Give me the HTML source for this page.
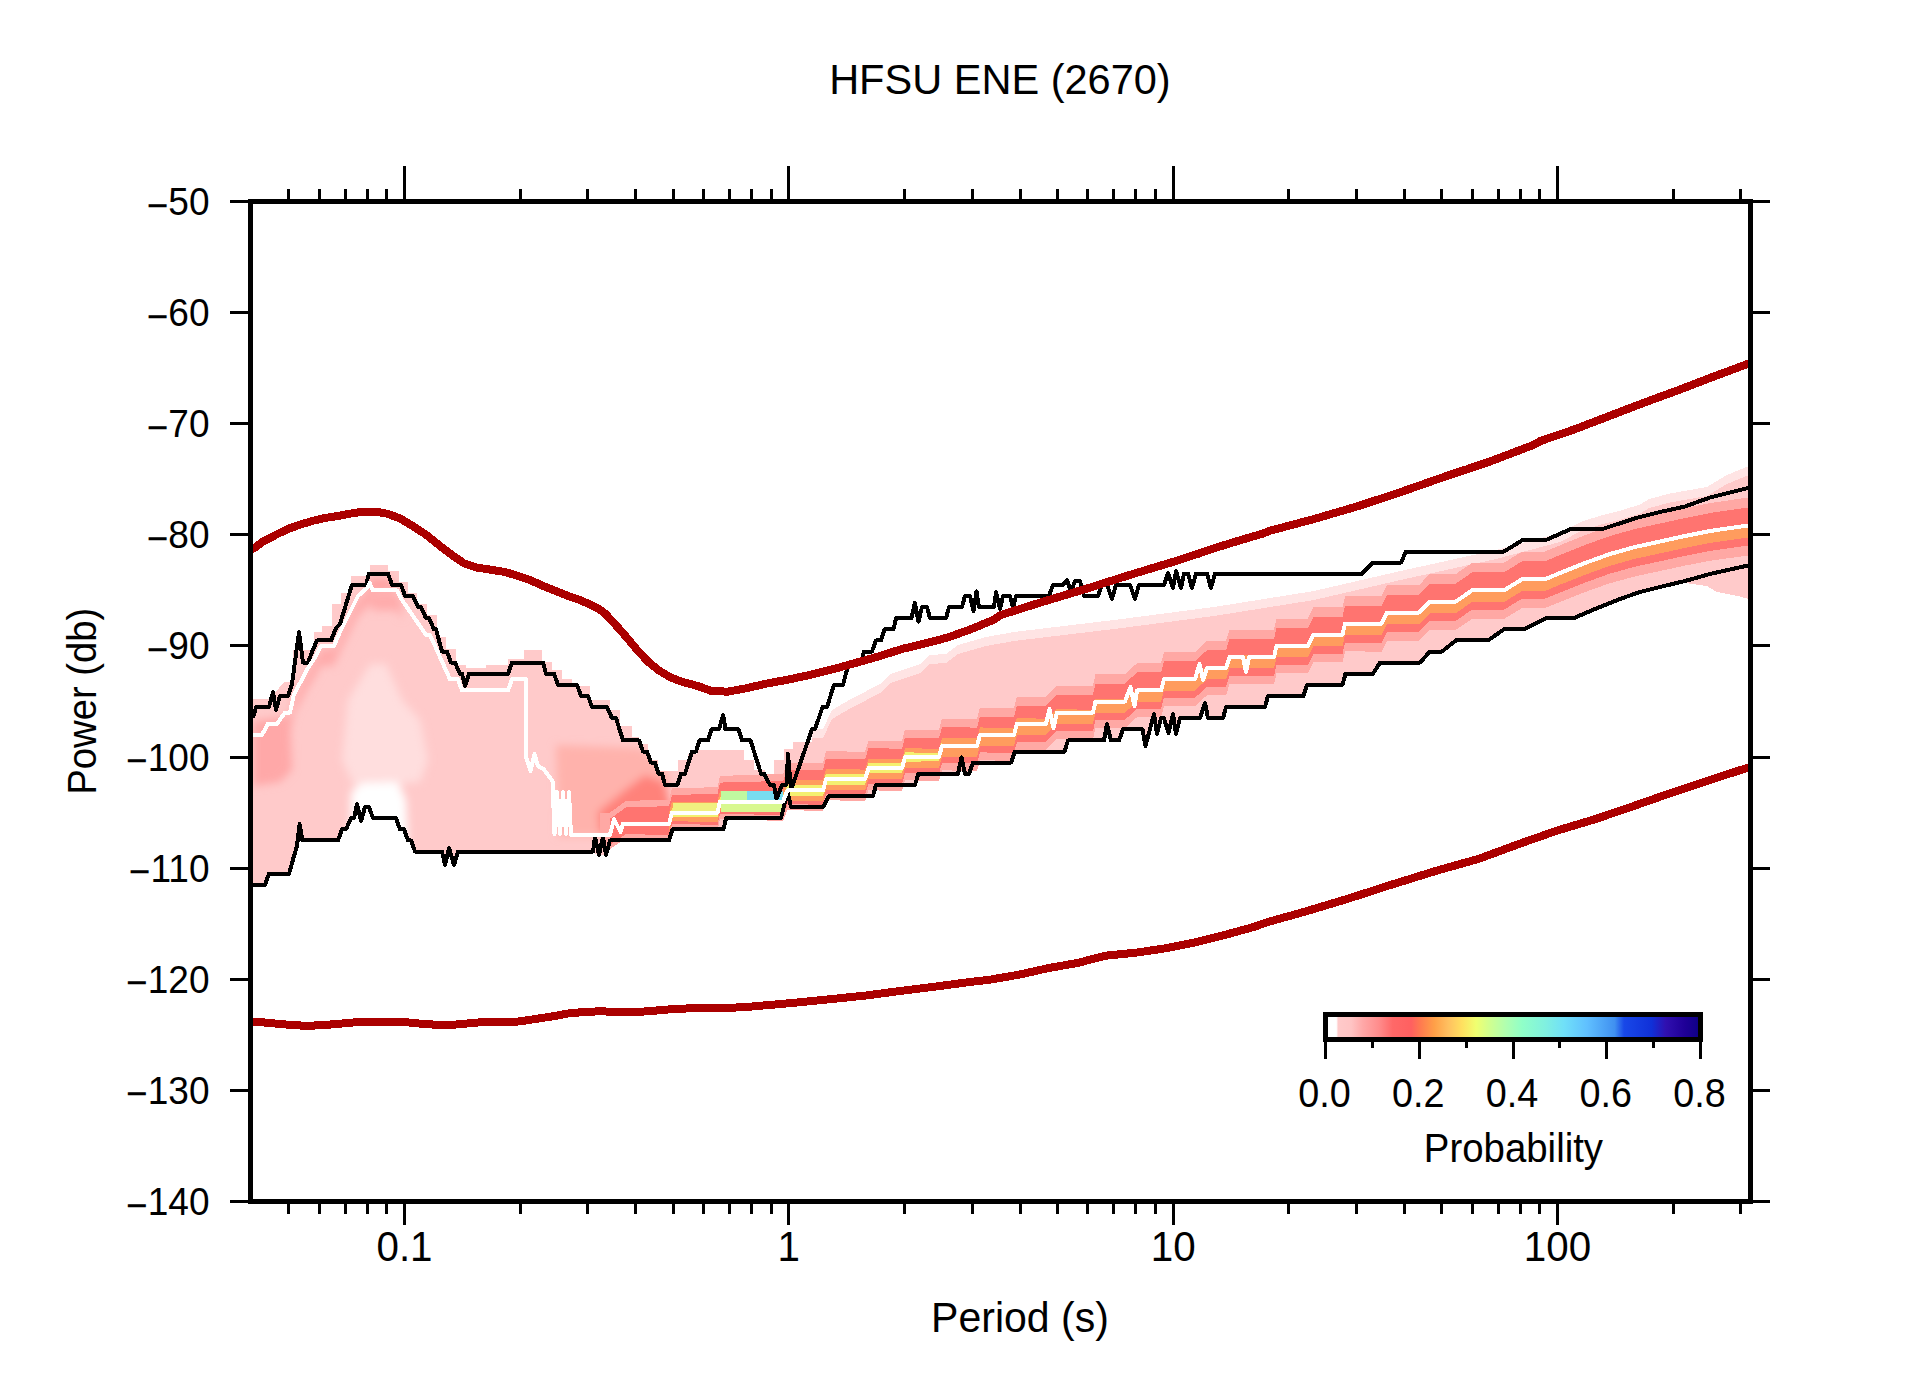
<!DOCTYPE html><html><head><meta charset="utf-8"><title>HFSU ENE (2670)</title><style>html,body{margin:0;padding:0;background:#fff;}svg{display:block;}text{font-family:"Liberation Sans",Arial,Helvetica,sans-serif;fill:#000;}</style></head><body>
<svg width="1910" height="1389" viewBox="0 0 1910 1389" shape-rendering="crispEdges">
<rect width="1910" height="1389" fill="#fff"/>
<defs><clipPath id="pc"><rect x="250.5" y="201.5" width="1500.0" height="1000.0"/></clipPath>
<linearGradient id="cb" x1="0" x2="1" y1="0" y2="0">
<stop offset="0.0000" stop-color="#ffffff"/>
<stop offset="0.0225" stop-color="#ffffff"/>
<stop offset="0.0275" stop-color="#ffcaca"/>
<stop offset="0.0625" stop-color="#ffc4c4"/>
<stop offset="0.0937" stop-color="#ffa8a8"/>
<stop offset="0.1375" stop-color="#ff8c8c"/>
<stop offset="0.1750" stop-color="#ff6868"/>
<stop offset="0.2250" stop-color="#ff6060"/>
<stop offset="0.2500" stop-color="#ff7a50"/>
<stop offset="0.2875" stop-color="#ffa048"/>
<stop offset="0.3250" stop-color="#ffc060"/>
<stop offset="0.3625" stop-color="#ffe060"/>
<stop offset="0.4000" stop-color="#f0ff70"/>
<stop offset="0.4375" stop-color="#d0ff90"/>
<stop offset="0.4813" stop-color="#b0ffb0"/>
<stop offset="0.5250" stop-color="#90ffc8"/>
<stop offset="0.5875" stop-color="#80f0e0"/>
<stop offset="0.6375" stop-color="#70e0f8"/>
<stop offset="0.7000" stop-color="#60c0ff"/>
<stop offset="0.7750" stop-color="#4090f0"/>
<stop offset="0.8000" stop-color="#1848e8"/>
<stop offset="0.8750" stop-color="#1030d8"/>
<stop offset="0.9125" stop-color="#3010b0"/>
<stop offset="0.9625" stop-color="#200098"/>
<stop offset="1.0000" stop-color="#100088"/>
</linearGradient>
<clipPath id="envc"><polygon points="252.0,699.0 270.0,699.0 284.0,682.0 293.0,682.0 293.0,650.0 314.0,650.0 314.0,632.0 322.0,632.0 322.0,626.0 332.0,626.0 332.0,604.0 341.0,604.0 341.0,593.0 351.0,593.0 351.0,576.0 370.0,576.0 370.0,565.0 388.0,565.0 388.0,571.0 399.0,571.0 399.0,582.0 408.0,582.0 408.0,593.0 417.0,593.0 417.0,604.0 427.0,604.0 427.0,615.0 437.0,615.0 437.0,637.0 446.0,637.0 446.0,649.0 456.0,649.0 456.0,665.0 466.0,665.0 466.0,668.0 486.0,668.0 486.0,665.0 508.0,665.0 508.0,659.0 524.0,659.0 524.0,650.0 542.0,650.0 542.0,662.0 552.0,662.0 552.0,670.0 562.0,670.0 562.0,679.0 572.0,679.0 572.0,686.0 590.0,686.0 590.0,700.0 610.0,700.0 610.0,710.0 620.0,710.0 620.0,726.0 632.0,726.0 632.0,737.0 639.0,737.0 639.0,744.0 648.0,744.0 648.0,760.0 658.0,760.0 658.0,771.0 678.0,771.0 678.0,760.0 688.0,760.0 688.0,754.0 697.0,754.0 697.0,750.0 744.0,750.0 744.0,760.0 754.0,760.0 754.0,770.0 765.0,770.0 765.0,777.0 774.0,777.0 774.0,760.0 784.0,760.0 784.0,749.0 793.0,749.0 793.0,742.0 812.0,742.0 812.0,729.0 823.0,729.0 832.0,710.0 851.0,699.0 861.0,694.0 872.0,688.0 882.0,683.0 890.0,674.0 920.0,664.0 929.0,655.0 946.0,654.0 958.0,645.0 986.0,637.0 1014.0,632.0 1114.0,620.0 1214.0,607.0 1314.0,591.0 1396.0,572.0 1496.0,550.0 1560.0,533.0 1582.0,521.5 1601.0,515.5 1621.0,510.5 1640.0,504.5 1649.0,499.0 1670.0,493.5 1707.0,487.0 1717.0,481.0 1727.0,475.0 1739.0,470.0 1749.0,466.0 1749.0,599.0 1738.0,596.0 1727.0,594.0 1717.0,592.0 1707.0,586.0 1685.0,583.0 1685.0,582.0 1660.0,588.0 1640.0,593.0 1620.0,600.0 1595.0,610.0 1574.0,619.0 1546.0,619.2 1524.0,630.3 1504.0,630.3 1488.0,641.4 1456.0,641.4 1442.0,652.5 1430.0,652.5 1420.0,663.6 1380.0,663.6 1373.0,674.7 1345.5,674.7 1342.5,685.8 1307.0,685.8 1303.5,696.9 1268.0,696.9 1265.0,708.1 1226.0,708.1 1223.0,719.2 1208.0,719.2 1205.0,704.0 1200.0,719.2 1180.0,719.2 1176.0,735.0 1173.0,715.0 1168.5,734.0 1164.0,719.2 1161.0,719.2 1157.0,735.0 1154.0,715.0 1145.5,747.0 1142.5,730.3 1123.0,730.3 1119.0,741.4 1111.0,741.4 1107.0,725.0 1104.0,741.4 1068.0,741.4 1064.5,752.5 1015.0,752.5 1011.0,763.6 973.0,763.6 969.0,774.7 965.0,774.7 961.5,758.5 958.0,774.7 918.5,774.7 915.0,785.8 876.0,785.8 873.0,796.9 829.0,796.9 823.0,808.1 791.0,808.1 787.5,793.0 781.0,819.2 726.0,819.2 723.5,830.3 672.5,830.3 669.0,841.4 610.0,841.4 632.0,842.0 610.0,842.0 606.0,856.0 593.0,853.0 458.0,853.0 454.0,866.0 449.0,850.0 445.0,866.0 442.0,853.0 415.0,853.0 411.0,843.0 408.0,842.0 404.0,831.0 400.0,830.0 396.0,819.0 373.0,819.0 369.0,808.0 365.0,808.0 361.0,823.0 357.0,806.0 354.0,819.0 351.0,820.0 346.0,830.0 342.0,831.0 338.0,842.0 302.0,842.0 299.6,826.0 297.0,848.0 294.0,858.0 289.0,875.0 269.0,875.0 265.0,886.0 252.0,886.0"/></clipPath>
<filter id="bl" x="-5%" y="-5%" width="110%" height="110%"><feGaussianBlur stdDeviation="4"/></filter>
</defs>
<g clip-path="url(#pc)">
<polygon points="252.0,699.0 270.0,699.0 284.0,682.0 293.0,682.0 293.0,650.0 314.0,650.0 314.0,632.0 322.0,632.0 322.0,626.0 332.0,626.0 332.0,604.0 341.0,604.0 341.0,593.0 351.0,593.0 351.0,576.0 370.0,576.0 370.0,565.0 388.0,565.0 388.0,571.0 399.0,571.0 399.0,582.0 408.0,582.0 408.0,593.0 417.0,593.0 417.0,604.0 427.0,604.0 427.0,615.0 437.0,615.0 437.0,637.0 446.0,637.0 446.0,649.0 456.0,649.0 456.0,665.0 466.0,665.0 466.0,668.0 486.0,668.0 486.0,665.0 508.0,665.0 508.0,659.0 524.0,659.0 524.0,650.0 542.0,650.0 542.0,662.0 552.0,662.0 552.0,670.0 562.0,670.0 562.0,679.0 572.0,679.0 572.0,686.0 590.0,686.0 590.0,700.0 610.0,700.0 610.0,710.0 620.0,710.0 620.0,726.0 632.0,726.0 632.0,737.0 639.0,737.0 639.0,744.0 648.0,744.0 648.0,760.0 658.0,760.0 658.0,771.0 678.0,771.0 678.0,760.0 688.0,760.0 688.0,754.0 697.0,754.0 697.0,750.0 744.0,750.0 744.0,760.0 754.0,760.0 754.0,770.0 765.0,770.0 765.0,777.0 774.0,777.0 774.0,760.0 784.0,760.0 784.0,749.0 793.0,749.0 793.0,742.0 812.0,742.0 812.0,729.0 823.0,729.0 832.0,710.0 851.0,699.0 861.0,694.0 872.0,688.0 882.0,683.0 890.0,674.0 920.0,664.0 929.0,655.0 946.0,654.0 958.0,645.0 986.0,637.0 1014.0,632.0 1114.0,620.0 1214.0,607.0 1314.0,591.0 1396.0,572.0 1496.0,550.0 1560.0,533.0 1582.0,521.5 1601.0,515.5 1621.0,510.5 1640.0,504.5 1649.0,499.0 1670.0,493.5 1707.0,487.0 1717.0,481.0 1727.0,475.0 1739.0,470.0 1749.0,466.0 1749.0,599.0 1738.0,596.0 1727.0,594.0 1717.0,592.0 1707.0,586.0 1685.0,583.0 1685.0,582.0 1660.0,588.0 1640.0,593.0 1620.0,600.0 1595.0,610.0 1574.0,619.0 1546.0,619.2 1524.0,630.3 1504.0,630.3 1488.0,641.4 1456.0,641.4 1442.0,652.5 1430.0,652.5 1420.0,663.6 1380.0,663.6 1373.0,674.7 1345.5,674.7 1342.5,685.8 1307.0,685.8 1303.5,696.9 1268.0,696.9 1265.0,708.1 1226.0,708.1 1223.0,719.2 1208.0,719.2 1205.0,704.0 1200.0,719.2 1180.0,719.2 1176.0,735.0 1173.0,715.0 1168.5,734.0 1164.0,719.2 1161.0,719.2 1157.0,735.0 1154.0,715.0 1145.5,747.0 1142.5,730.3 1123.0,730.3 1119.0,741.4 1111.0,741.4 1107.0,725.0 1104.0,741.4 1068.0,741.4 1064.5,752.5 1015.0,752.5 1011.0,763.6 973.0,763.6 969.0,774.7 965.0,774.7 961.5,758.5 958.0,774.7 918.5,774.7 915.0,785.8 876.0,785.8 873.0,796.9 829.0,796.9 823.0,808.1 791.0,808.1 787.5,793.0 781.0,819.2 726.0,819.2 723.5,830.3 672.5,830.3 669.0,841.4 610.0,841.4 632.0,842.0 610.0,842.0 606.0,856.0 593.0,853.0 458.0,853.0 454.0,866.0 449.0,850.0 445.0,866.0 442.0,853.0 415.0,853.0 411.0,843.0 408.0,842.0 404.0,831.0 400.0,830.0 396.0,819.0 373.0,819.0 369.0,808.0 365.0,808.0 361.0,823.0 357.0,806.0 354.0,819.0 351.0,820.0 346.0,830.0 342.0,831.0 338.0,842.0 302.0,842.0 299.6,826.0 297.0,848.0 294.0,858.0 289.0,875.0 269.0,875.0 265.0,886.0 252.0,886.0" fill="#ffcaca"/>
<polygon points="812.0,742.0 812.0,729.0 823.0,729.0 832.0,710.0 851.0,699.0 861.0,694.0 872.0,688.0 882.0,683.0 890.0,674.0 920.0,664.0 929.0,655.0 946.0,654.0 958.0,645.0 986.0,637.0 1014.0,632.0 1114.0,620.0 1214.0,607.0 1314.0,591.0 1396.0,572.0 1496.0,550.0 1560.0,533.0 1582.0,521.5 1601.0,515.5 1621.0,510.5 1640.0,504.5 1649.0,499.0 1670.0,493.5 1707.0,487.0 1717.0,481.0 1727.0,475.0 1739.0,470.0 1749.0,466.0 1749.0,475.0 1739.0,479.0 1727.0,484.0 1717.0,490.0 1707.0,496.0 1670.0,502.5 1649.0,508.0 1640.0,513.5 1621.0,519.5 1601.0,524.5 1582.0,530.5 1560.0,542.0 1496.0,559.0 1396.0,581.0 1314.0,600.0 1214.0,616.0 1114.0,629.0 1014.0,641.0 986.0,646.0 958.0,654.0 946.0,663.0 929.0,664.0 920.0,673.0 890.0,683.0 882.0,692.0 872.0,697.0 861.0,703.0 851.0,708.0 832.0,719.0 823.0,738.0 812.0,738.0 812.0,751.0" fill="#ffe4e4"/>
<g clip-path="url(#envc)"><g filter="url(#bl)" shape-rendering="auto">
<polygon points="348.0,700.0 370.0,664.0 386.0,664.0 402.0,700.0 420.0,720.0 428.0,760.0 420.0,782.0 398.0,784.0 354.0,786.0 342.0,760.0" fill="#ffdede"/>
<polygon points="350.0,842.0 351.0,792.0 362.0,783.0 398.0,782.0 406.0,800.0 408.0,842.0" fill="#ffffff"/>
<polygon points="253.0,736.8 262.0,736.8 268.0,725.7 277.0,725.7 285.0,714.6 290.0,714.6 294.0,696.0 300.0,685.0 308.0,670.0 314.0,661.0 321.0,647.9 334.0,647.9 339.0,636.0 358.0,598.0 367.0,590.0 369.6,585.0 373.0,592.4 397.0,592.4 402.0,602.0 402.0,620.0 397.0,610.4 373.0,610.4 369.6,603.0 367.0,608.0 358.0,616.0 339.0,654.0 334.0,665.9 321.0,665.9 314.0,679.0 308.0,688.0 300.0,703.0 294.0,714.0 290.0,732.6 285.0,732.6 277.0,743.7 268.0,743.7 262.0,754.8 253.0,754.8" fill="#ffacac"/>
<polygon points="253.0,722.0 262.0,720.0 290.0,716.0 292.0,770.0 280.0,782.0 253.0,786.0" fill="#ffa8a8"/>
<polygon points="369.0,578.0 390.0,578.0 396.0,590.0 368.0,590.0" fill="#ffa0a0"/>
<polygon points="556.0,745.0 640.0,748.0 668.0,770.0 670.0,836.0 558.0,836.0" fill="#ffb2ac"/>
<polygon points="598.0,812.0 625.0,790.0 645.0,775.0 664.0,782.0 670.0,805.0 665.0,830.0 600.0,834.0" fill="#ff827a"/>
</g></g>
<polygon points="600.0,812.8 610.0,812.5 626.0,800.9 669.0,799.7 672.0,788.5 717.5,787.1 720.0,775.9 783.0,774.0 787.5,762.8 823.0,762.5 826.0,751.4 865.0,751.6 868.5,740.5 902.0,740.7 905.0,729.6 939.0,729.8 942.0,718.7 977.0,718.8 980.0,707.7 1014.0,707.8 1017.0,696.7 1046.0,696.7 1057.0,685.5 1093.0,685.5 1095.5,674.4 1125.0,674.3 1137.0,663.2 1161.0,663.2 1164.0,652.1 1195.0,652.0 1207.0,640.9 1226.0,640.9 1229.5,629.7 1274.0,629.7 1276.5,618.6 1308.0,618.5 1313.5,607.4 1342.5,607.4 1345.0,596.3 1381.5,596.2 1387.0,585.1 1419.0,585.1 1430.0,573.9 1456.0,573.9 1472.0,562.8 1504.0,562.7 1522.0,551.6 1545.0,551.5 1560.0,545.3 1585.0,535.2 1610.0,526.2 1635.0,519.2 1660.0,513.6 1685.0,508.1 1710.0,503.1 1748.0,497.5 1752.0,497.0 1752.0,555.0 1748.0,555.5 1710.0,560.8 1685.0,565.6 1660.0,571.0 1635.0,576.4 1610.0,583.2 1585.0,592.1 1560.0,601.9 1545.0,608.1 1522.0,608.0 1504.0,619.0 1472.0,618.8 1456.0,629.8 1430.0,629.7 1419.0,640.7 1387.0,640.5 1381.5,651.6 1345.0,651.4 1342.5,662.5 1313.5,662.4 1308.0,673.5 1276.5,673.3 1274.0,684.4 1229.5,684.2 1226.0,695.3 1207.0,695.2 1195.0,706.3 1164.0,706.1 1161.0,717.2 1137.0,717.1 1125.0,728.1 1095.5,728.0 1093.0,739.1 1057.0,738.9 1046.0,750.0 1017.0,749.8 1014.0,760.9 980.0,760.2 977.0,771.3 942.0,770.2 939.0,781.2 905.0,780.2 902.0,791.2 868.5,790.2 865.0,801.2 826.0,800.1 823.0,811.1 787.5,810.0 783.0,821.0 720.0,819.1 717.5,830.1 672.0,828.8 669.0,839.8 626.0,838.5 610.0,849.1 600.0,848.8" fill="#ffa8a4"/>
<polygon points="610.0,818.8 626.0,807.3 669.0,806.2 672.0,795.0 717.5,793.8 720.0,782.6 783.0,780.9 787.5,769.7 823.0,769.7 826.0,758.7 865.0,759.3 868.5,748.2 902.0,748.7 905.0,737.6 939.0,738.1 942.0,727.1 977.0,727.6 980.0,716.5 1014.0,716.8 1017.0,705.7 1046.0,705.7 1057.0,694.6 1093.0,694.6 1095.5,683.5 1125.0,683.5 1137.0,672.4 1161.0,672.4 1164.0,661.3 1195.0,661.3 1207.0,650.2 1226.0,650.2 1229.5,639.1 1274.0,639.1 1276.5,627.9 1308.0,627.9 1313.5,616.8 1342.5,616.8 1345.0,605.7 1381.5,605.7 1387.0,594.6 1419.0,594.6 1430.0,583.5 1456.0,583.5 1472.0,572.4 1504.0,572.4 1522.0,561.3 1545.0,561.3 1560.0,555.0 1585.0,545.0 1610.0,536.0 1635.0,529.0 1660.0,523.5 1685.0,518.0 1710.0,513.0 1748.0,507.5 1752.0,507.0 1752.0,545.0 1748.0,545.5 1710.0,550.9 1685.0,555.8 1660.0,561.3 1635.0,566.7 1610.0,573.6 1585.0,582.6 1560.0,592.5 1545.0,598.7 1522.0,598.7 1504.0,609.7 1472.0,609.7 1456.0,620.7 1430.0,620.6 1419.0,631.7 1387.0,631.6 1381.5,642.7 1345.0,642.6 1342.5,653.7 1313.5,653.7 1308.0,664.8 1276.5,664.7 1274.0,675.8 1229.5,675.7 1226.0,686.8 1207.0,686.7 1195.0,697.8 1164.0,697.7 1161.0,708.8 1137.0,708.8 1125.0,719.8 1095.5,719.8 1093.0,730.9 1057.0,730.8 1046.0,741.8 1017.0,741.8 1014.0,752.9 980.0,752.4 977.0,763.5 942.0,762.8 939.0,773.8 905.0,773.2 902.0,784.2 868.5,783.5 865.0,794.6 826.0,793.8 823.0,804.8 787.5,804.1 783.0,815.1 720.0,813.8 717.5,824.9 672.0,823.9 669.0,835.0 626.0,834.1 610.0,844.8" fill="#ff7470"/>
<polygon points="669.0,812.7 672.0,801.6 717.5,801.6 720.0,790.5 783.0,790.5 787.5,779.4 823.0,779.8 826.0,768.8 865.0,769.6 868.5,758.5 902.0,759.2 905.0,748.2 939.0,748.8 942.0,737.8 977.0,738.5 980.0,727.4 1014.0,728.5 1017.0,717.6 1046.0,719.0 1057.0,708.5 1093.0,710.3 1095.5,699.3 1125.0,699.5 1137.0,688.4 1161.0,688.4 1164.0,677.3 1195.0,677.3 1207.0,666.2 1226.0,666.2 1229.5,655.1 1274.0,655.1 1276.5,643.9 1308.0,643.9 1313.5,632.8 1342.5,632.8 1345.0,621.7 1381.5,621.7 1387.0,610.6 1419.0,610.6 1430.0,599.5 1456.0,599.5 1472.0,588.4 1504.0,588.4 1522.0,577.3 1545.0,577.3 1560.0,571.0 1585.0,561.0 1610.0,552.0 1635.0,545.0 1660.0,539.5 1685.0,534.0 1710.0,529.0 1748.0,523.5 1752.0,523.0 1752.0,537.0 1748.0,537.5 1710.0,542.9 1685.0,547.9 1660.0,553.4 1635.0,558.8 1610.0,565.8 1585.0,574.8 1560.0,584.7 1545.0,591.0 1522.0,591.0 1504.0,602.1 1472.0,602.0 1456.0,613.1 1430.0,613.1 1419.0,624.2 1387.0,624.1 1381.5,635.2 1345.0,635.2 1342.5,646.3 1313.5,646.3 1308.0,657.4 1276.5,657.3 1274.0,668.4 1229.5,668.4 1226.0,679.5 1207.0,679.4 1195.0,690.5 1164.0,690.5 1161.0,701.6 1137.0,701.6 1125.0,712.7 1095.5,712.6 1093.0,723.7 1057.0,723.7 1046.0,734.8 1017.0,734.7 1014.0,745.9 980.0,745.8 977.0,756.9 942.0,756.9 939.0,768.1 905.0,768.1 902.0,779.2 868.5,779.2 865.0,790.3 826.0,790.3 823.0,801.4 787.5,801.2 783.0,812.2 720.0,811.0 717.5,822.1 672.0,821.2 669.0,832.3" fill="#ff9c5e"/>
<polygon points="669.0,819.6 672.0,808.4 717.5,807.8 720.0,796.6 783.0,795.7 787.5,784.6 823.0,784.7 826.0,773.6 865.0,774.1 868.5,763.0 902.0,763.4 905.0,752.4 939.0,752.8 942.0,741.7 942.0,750.2 939.0,761.3 905.0,761.7 902.0,772.9 868.5,773.3 865.0,784.5 826.0,785.0 823.0,796.1 787.5,796.2 783.0,807.3 720.0,806.4 717.5,817.4 672.0,816.8 669.0,827.9" fill="#f4f070"/>
<rect x="721" y="791" width="26" height="10" fill="#c0f8a0"/>
<rect x="747" y="791" width="36" height="10" fill="#78dcf0"/>
<rect x="721" y="804" width="62" height="8" fill="#d8f890"/>
<rect x="673" y="803" width="45" height="9" fill="#f0f080"/>
</g>
<g fill="none" stroke-linejoin="round" stroke-linecap="butt">
<polyline points="253.0,718.0 256.0,707.1 269.0,707.1 273.0,692.0 276.0,710.0 280.0,695.9 288.0,695.9 292.0,684.0 299.0,632.0 303.0,662.6 308.0,662.6 312.0,652.0 317.0,640.4 331.0,640.4 336.0,628.0 340.0,624.0 352.0,584.8 366.0,584.8 369.0,573.7 388.0,573.7 392.0,584.8 401.0,584.8 405.0,595.9 413.0,595.9 418.0,607.1 421.0,607.1 426.0,618.2 429.0,618.2 434.0,629.3 436.0,629.3 442.0,651.5 447.0,651.5 451.0,662.6 455.0,662.6 460.0,673.7 462.0,673.7 465.0,686.0 469.0,673.7 508.0,673.7 512.0,662.6 543.0,662.6 546.0,673.7 554.0,673.7 558.0,684.8 577.0,684.8 581.0,695.9 588.0,695.9 592.0,707.1 607.0,707.1 612.0,718.2 616.0,718.2 623.0,740.4 639.0,740.4 643.0,751.5 647.0,751.5 651.0,762.6 655.0,762.6 658.5,773.7 662.0,773.7 665.0,784.8 677.5,784.8 681.0,773.7 685.0,773.7 692.0,751.5 696.0,751.5 699.5,740.4 708.0,740.4 711.5,729.3 719.0,729.3 723.2,715.0 725.5,729.3 738.5,729.3 742.0,740.4 750.5,740.4 761.0,773.7 764.0,773.7 770.0,784.8 774.0,784.8 776.5,799.0 782.0,784.8 786.5,784.8 788.0,754.0 791.0,790.0 812.0,729.3 815.0,729.3 822.5,707.1 827.0,707.1 834.0,684.8 843.0,684.8 847.0,669.5 850.0,662.6 861.0,662.6 864.0,651.5 872.0,651.5 876.0,640.4 881.0,640.4 884.5,629.3 893.5,629.3 896.0,618.2 911.5,618.2 914.8,603.0 918.5,621.5 922.0,607.1 927.0,607.1 930.0,618.2 946.0,618.2 949.0,607.1 962.0,607.1 965.0,595.9 970.0,595.9 973.5,611.0 976.5,591.5 979.0,607.1 994.0,607.1 996.0,592.0 1000.0,609.0 1003.0,595.9 1010.0,595.9 1013.0,608.0 1016.0,595.9 1049.0,595.9 1053.0,584.8 1063.0,584.8 1067.0,580.0 1071.0,592.0 1075.0,581.0 1080.0,581.0 1084.0,595.9 1098.0,595.9 1102.0,584.8 1107.0,584.8 1112.0,599.0 1116.0,584.8 1130.0,584.8 1135.0,599.0 1139.0,584.8 1164.0,584.8 1168.0,573.0 1173.0,588.0 1176.0,571.0 1181.0,588.0 1184.0,573.7 1188.0,573.7 1192.0,588.0 1196.0,573.7 1207.0,573.7 1211.0,588.0 1215.0,573.7 1362.0,573.7 1373.0,562.6 1401.0,562.6 1406.0,551.5 1504.0,551.5 1522.0,540.4 1545.0,540.4 1572.0,528.5 1604.0,528.5 1636.0,518.0 1660.0,512.0 1685.0,506.5 1710.0,497.5 1748.0,488.0" stroke="#000" stroke-width="4"/>
<polyline points="253.0,884.8 265.0,884.8 269.0,873.7 289.0,873.7 294.0,856.0 297.0,846.0 299.6,824.0 302.4,840.4 338.0,840.4 342.0,829.3 346.0,829.3 351.0,818.2 354.0,818.2 357.0,804.0 361.0,821.0 365.0,807.1 369.0,807.1 373.0,818.2 396.0,818.2 400.0,829.3 404.0,829.3 408.0,840.4 411.0,840.4 415.0,851.5 442.0,851.5 445.0,865.0 449.0,848.0 454.0,865.0 458.0,851.5 593.0,851.5 595.0,837.0 599.0,855.0 603.0,837.0 606.0,855.0 610.0,840.4 669.0,840.4 672.5,829.3 723.5,829.3 726.0,818.2 781.0,818.2 787.5,792.0 791.0,807.1 823.0,807.1 829.0,795.9 873.0,795.9 876.0,784.8 915.0,784.8 918.5,773.7 958.0,773.7 961.5,757.5 965.0,773.7 969.0,773.7 973.0,762.6 1011.0,762.6 1015.0,751.5 1064.5,751.5 1068.0,740.4 1104.0,740.4 1107.0,724.0 1111.0,740.4 1119.0,740.4 1123.0,729.3 1142.5,729.3 1145.5,746.0 1154.0,714.0 1157.0,734.0 1161.0,718.2 1164.0,718.2 1168.5,733.0 1173.0,714.0 1176.0,734.0 1180.0,718.2 1200.0,718.2 1205.0,703.0 1208.0,718.2 1223.0,718.2 1226.0,707.1 1265.0,707.1 1268.0,695.9 1303.5,695.9 1307.0,684.8 1342.5,684.8 1345.5,673.7 1373.0,673.7 1380.0,662.6 1420.0,662.6 1430.0,651.5 1442.0,651.5 1456.0,640.4 1488.0,640.4 1504.0,629.3 1524.0,629.3 1546.0,618.2 1574.0,618.0 1595.0,609.0 1620.0,599.0 1640.0,592.0 1660.0,587.0 1685.0,581.0 1710.0,574.0 1748.0,565.5" stroke="#000" stroke-width="4"/>
<polyline points="253.0,734.8 262.0,734.8 268.0,723.7 277.0,723.7 285.0,712.6 290.0,712.6 294.0,694.0 300.0,683.0 308.0,668.0 314.0,659.0 321.0,645.9 334.0,645.9 339.0,634.0 358.0,596.0 367.0,588.0 369.6,583.0 373.0,590.4 397.0,590.4 402.0,600.0 426.0,634.8 430.0,634.8 450.0,679.3 458.0,679.3 462.0,690.4 508.0,690.4 512.0,679.3 526.0,679.3 526.0,757.0 530.5,771.0 534.5,754.0 538.0,766.0 543.5,769.0 552.5,781.0 554.5,834.0 557.0,792.0 560.0,834.0 563.0,792.0 566.0,834.0 569.0,792.0 571.0,834.8 610.0,834.8 614.0,819.0 620.5,832.0 623.0,823.7 669.0,823.7 672.0,812.6 717.5,812.6 720.0,801.5 783.0,801.5 787.5,790.4 792.0,790.4 823.0,790.4 826.0,779.3 865.0,779.3 868.5,768.2 902.0,768.2 905.0,757.1 939.0,757.1 942.0,745.9 977.0,745.9 980.0,734.8 1014.0,734.8 1017.0,723.7 1046.0,723.7 1049.5,709.0 1053.5,728.0 1057.0,712.6 1093.0,712.6 1095.5,701.5 1125.0,701.5 1130.5,687.0 1134.5,706.0 1137.0,690.4 1161.0,690.4 1164.0,679.3 1195.0,679.3 1199.5,664.0 1203.0,680.0 1207.0,668.2 1226.0,668.2 1229.5,657.1 1243.0,657.1 1246.0,672.0 1249.0,657.1 1274.0,657.1 1276.5,645.9 1308.0,645.9 1313.5,634.8 1342.5,634.8 1345.0,623.7 1381.5,623.7 1387.0,612.6 1419.0,612.6 1430.0,601.5 1456.0,601.5 1472.0,590.4 1504.0,590.4 1522.0,579.3 1545.0,579.3 1560.0,573.0 1585.0,563.0 1610.0,554.0 1635.0,547.0 1660.0,541.5 1685.0,536.0 1710.0,531.0 1748.0,525.5" stroke="#fff" stroke-width="4"/>
<polyline points="251.0,549.5 253.8,548.4 262.6,541.8 275.1,535.2 287.7,529.0 300.3,524.6 312.8,520.8 325.4,517.9 338.0,516.0 350.5,513.6 363.1,511.6 375.7,511.6 388.2,513.9 400.8,518.9 413.4,526.4 425.9,534.6 438.5,544.7 451.0,554.3 463.6,563.1 476.2,567.5 488.8,569.4 505.1,572.0 517.7,575.8 530.3,580.2 542.8,585.8 555.4,590.8 568.0,595.9 580.5,600.3 593.1,605.9 599.4,609.3 605.7,614.1 616.0,625.3 626.8,637.5 637.6,650.5 648.4,662.0 659.2,670.6 670.0,677.1 680.8,681.4 691.6,684.3 700.0,686.8 712.0,691.2 728.0,691.6 745.0,688.5 765.6,683.8 788.0,679.6 811.1,674.7 834.0,669.0 856.7,662.6 880.0,656.0 902.2,648.9 925.0,643.5 947.8,637.5 970.0,629.5 993.3,620.0 1000.0,615.3 1022.0,608.3 1044.0,601.4 1066.0,594.8 1088.0,588.2 1110.0,581.2 1132.0,574.3 1154.0,567.6 1176.0,561.0 1198.0,553.8 1220.0,546.4 1242.0,539.7 1264.0,533.2 1270.0,530.7 1292.0,524.9 1314.0,519.0 1336.0,512.6 1358.0,506.2 1380.0,498.9 1402.0,491.6 1424.0,483.9 1446.0,476.2 1468.0,468.9 1490.0,461.5 1512.0,453.1 1534.0,444.7 1540.0,441.2 1574.6,429.3 1609.1,416.1 1643.7,402.8 1678.2,390.2 1712.8,376.9 1747.4,364.0 1750.0,363.0" stroke="#ab0000" stroke-width="8" stroke-linejoin="round"/>
<polyline points="251.0,1022.0 253.0,1022.0 262.0,1022.3 270.0,1023.0 280.0,1024.0 292.0,1025.0 307.0,1025.9 324.0,1025.0 337.0,1024.0 349.0,1022.8 360.0,1022.0 380.0,1021.9 400.0,1022.0 411.0,1022.6 423.0,1024.0 440.0,1024.9 455.0,1024.6 462.0,1024.0 474.0,1022.8 485.0,1022.0 510.0,1022.0 520.0,1021.4 530.0,1019.8 543.0,1017.8 557.0,1015.6 567.0,1013.6 584.0,1012.0 600.0,1011.3 620.0,1012.0 640.0,1011.8 650.0,1011.1 662.0,1010.0 675.0,1008.9 700.0,1008.0 720.0,1008.5 752.0,1006.5 792.0,1003.0 832.0,999.0 866.0,995.5 900.0,991.0 940.0,986.0 970.0,982.0 990.0,979.7 1019.3,974.6 1048.7,968.0 1078.0,962.9 1092.6,958.9 1107.3,955.5 1136.6,952.6 1166.0,948.2 1195.3,942.3 1224.6,935.0 1253.9,926.9 1268.6,921.8 1304.0,911.9 1348.0,898.7 1392.0,884.5 1436.0,870.9 1480.0,858.4 1520.0,843.6 1557.7,830.4 1595.4,819.1 1633.1,806.2 1670.8,793.0 1708.5,780.4 1746.2,768.2 1750.0,767.0" stroke="#ab0000" stroke-width="8" stroke-linejoin="round"/>
</g>
<rect x="250.5" y="201.5" width="1500.0" height="1000.0" fill="none" stroke="#000" stroke-width="5"/>
<path d="M230.0 201.5H250.5M1750.5 201.5H1770.0M230.0 312.6H250.5M1750.5 312.6H1770.0M230.0 423.7H250.5M1750.5 423.7H1770.0M230.0 534.8H250.5M1750.5 534.8H1770.0M230.0 645.9H250.5M1750.5 645.9H1770.0M230.0 757.1H250.5M1750.5 757.1H1770.0M230.0 868.2H250.5M1750.5 868.2H1770.0M230.0 979.3H250.5M1750.5 979.3H1770.0M230.0 1090.4H250.5M1750.5 1090.4H1770.0M230.0 1201.5H250.5M1750.5 1201.5H1770.0M288.8 189.0V201.5M288.8 1201.5V1214.0M319.2 189.0V201.5M319.2 1201.5V1214.0M345.0 189.0V201.5M345.0 1201.5V1214.0M367.3 189.0V201.5M367.3 1201.5V1214.0M386.9 189.0V201.5M386.9 1201.5V1214.0M404.5 166.0V201.5M404.5 1201.5V1225.0M520.2 189.0V201.5M520.2 1201.5V1214.0M587.9 189.0V201.5M587.9 1201.5V1214.0M635.9 189.0V201.5M635.9 1201.5V1214.0M673.1 189.0V201.5M673.1 1201.5V1214.0M703.6 189.0V201.5M703.6 1201.5V1214.0M729.3 189.0V201.5M729.3 1201.5V1214.0M751.6 189.0V201.5M751.6 1201.5V1214.0M771.2 189.0V201.5M771.2 1201.5V1214.0M788.8 166.0V201.5M788.8 1201.5V1225.0M904.5 189.0V201.5M904.5 1201.5V1214.0M972.2 189.0V201.5M972.2 1201.5V1214.0M1020.2 189.0V201.5M1020.2 1201.5V1214.0M1057.5 189.0V201.5M1057.5 1201.5V1214.0M1087.9 189.0V201.5M1087.9 1201.5V1214.0M1113.6 189.0V201.5M1113.6 1201.5V1214.0M1135.9 189.0V201.5M1135.9 1201.5V1214.0M1155.6 189.0V201.5M1155.6 1201.5V1214.0M1173.2 166.0V201.5M1173.2 1201.5V1225.0M1288.9 189.0V201.5M1288.9 1201.5V1214.0M1356.5 189.0V201.5M1356.5 1201.5V1214.0M1404.5 189.0V201.5M1404.5 1201.5V1214.0M1441.8 189.0V201.5M1441.8 1201.5V1214.0M1472.2 189.0V201.5M1472.2 1201.5V1214.0M1498.0 189.0V201.5M1498.0 1201.5V1214.0M1520.2 189.0V201.5M1520.2 1201.5V1214.0M1539.9 189.0V201.5M1539.9 1201.5V1214.0M1557.5 166.0V201.5M1557.5 1201.5V1225.0M1673.2 189.0V201.5M1673.2 1201.5V1214.0M1740.9 189.0V201.5M1740.9 1201.5V1214.0" stroke="#000" stroke-width="3" fill="none"/>
<text transform="translate(209.50,215.00) scale(0.9450,1)" font-size="39.20" text-anchor="end"><tspan dy="3.5">&#8722;</tspan><tspan dy="-3.5">50</tspan></text>
<text transform="translate(209.50,326.11) scale(0.9450,1)" font-size="39.20" text-anchor="end"><tspan dy="3.5">&#8722;</tspan><tspan dy="-3.5">60</tspan></text>
<text transform="translate(209.50,437.22) scale(0.9450,1)" font-size="39.20" text-anchor="end"><tspan dy="3.5">&#8722;</tspan><tspan dy="-3.5">70</tspan></text>
<text transform="translate(209.50,548.33) scale(0.9450,1)" font-size="39.20" text-anchor="end"><tspan dy="3.5">&#8722;</tspan><tspan dy="-3.5">80</tspan></text>
<text transform="translate(209.50,659.44) scale(0.9450,1)" font-size="39.20" text-anchor="end"><tspan dy="3.5">&#8722;</tspan><tspan dy="-3.5">90</tspan></text>
<text transform="translate(209.50,770.56) scale(0.9450,1)" font-size="39.20" text-anchor="end"><tspan dy="3.5">&#8722;</tspan><tspan dy="-3.5">100</tspan></text>
<text transform="translate(209.50,881.67) scale(0.9450,1)" font-size="39.20" text-anchor="end"><tspan dy="3.5">&#8722;</tspan><tspan dy="-3.5">110</tspan></text>
<text transform="translate(209.50,992.78) scale(0.9450,1)" font-size="39.20" text-anchor="end"><tspan dy="3.5">&#8722;</tspan><tspan dy="-3.5">120</tspan></text>
<text transform="translate(209.50,1103.89) scale(0.9450,1)" font-size="39.20" text-anchor="end"><tspan dy="3.5">&#8722;</tspan><tspan dy="-3.5">130</tspan></text>
<text transform="translate(209.50,1215.00) scale(0.9450,1)" font-size="39.20" text-anchor="end"><tspan dy="3.5">&#8722;</tspan><tspan dy="-3.5">140</tspan></text>
<text transform="translate(404.50,1261.00) scale(0.9500,1)" font-size="42.50" text-anchor="middle">0.1</text>
<text transform="translate(788.83,1261.00) scale(0.9500,1)" font-size="42.50" text-anchor="middle">1</text>
<text transform="translate(1173.16,1261.00) scale(0.9500,1)" font-size="42.50" text-anchor="middle">10</text>
<text transform="translate(1557.49,1261.00) scale(0.9500,1)" font-size="42.50" text-anchor="middle">100</text>
<text transform="translate(999.90,94.00) scale(0.9750,1)" font-size="42.60" text-anchor="middle">HFSU ENE (2670)</text>
<text transform="translate(1020.00,1332.00) scale(0.9500,1)" font-size="43.20" text-anchor="middle">Period (s)</text>
<text transform="translate(96.00,701.20) rotate(-90) scale(0.9420,1)" font-size="40.60" text-anchor="middle">Power (db)</text>
<rect x="1328" y="1017" width="370" height="20" fill="url(#cb)"/>
<rect x="1325.5" y="1014.5" width="375" height="25" fill="none" stroke="#000" stroke-width="5"/>
<path d="M1325.5 1042V1059.0M1372.4 1042V1048.0M1419.2 1042V1059.0M1466.1 1042V1048.0M1513.0 1042V1059.0M1559.9 1042V1048.0M1606.8 1042V1059.0M1653.6 1042V1048.0M1700.5 1042V1059.0" stroke="#000" stroke-width="3" fill="none"/>
<text transform="translate(1324.50,1107.40) scale(0.9300,1)" font-size="40.60" text-anchor="middle">0.0</text>
<text transform="translate(1418.25,1107.40) scale(0.9300,1)" font-size="40.60" text-anchor="middle">0.2</text>
<text transform="translate(1512.00,1107.40) scale(0.9300,1)" font-size="40.60" text-anchor="middle">0.4</text>
<text transform="translate(1605.75,1107.40) scale(0.9300,1)" font-size="40.60" text-anchor="middle">0.6</text>
<text transform="translate(1699.50,1107.40) scale(0.9300,1)" font-size="40.60" text-anchor="middle">0.8</text>
<text transform="translate(1513.45,1162.00) scale(0.9460,1)" font-size="40.60" text-anchor="middle">Probability</text>
</svg></body></html>
